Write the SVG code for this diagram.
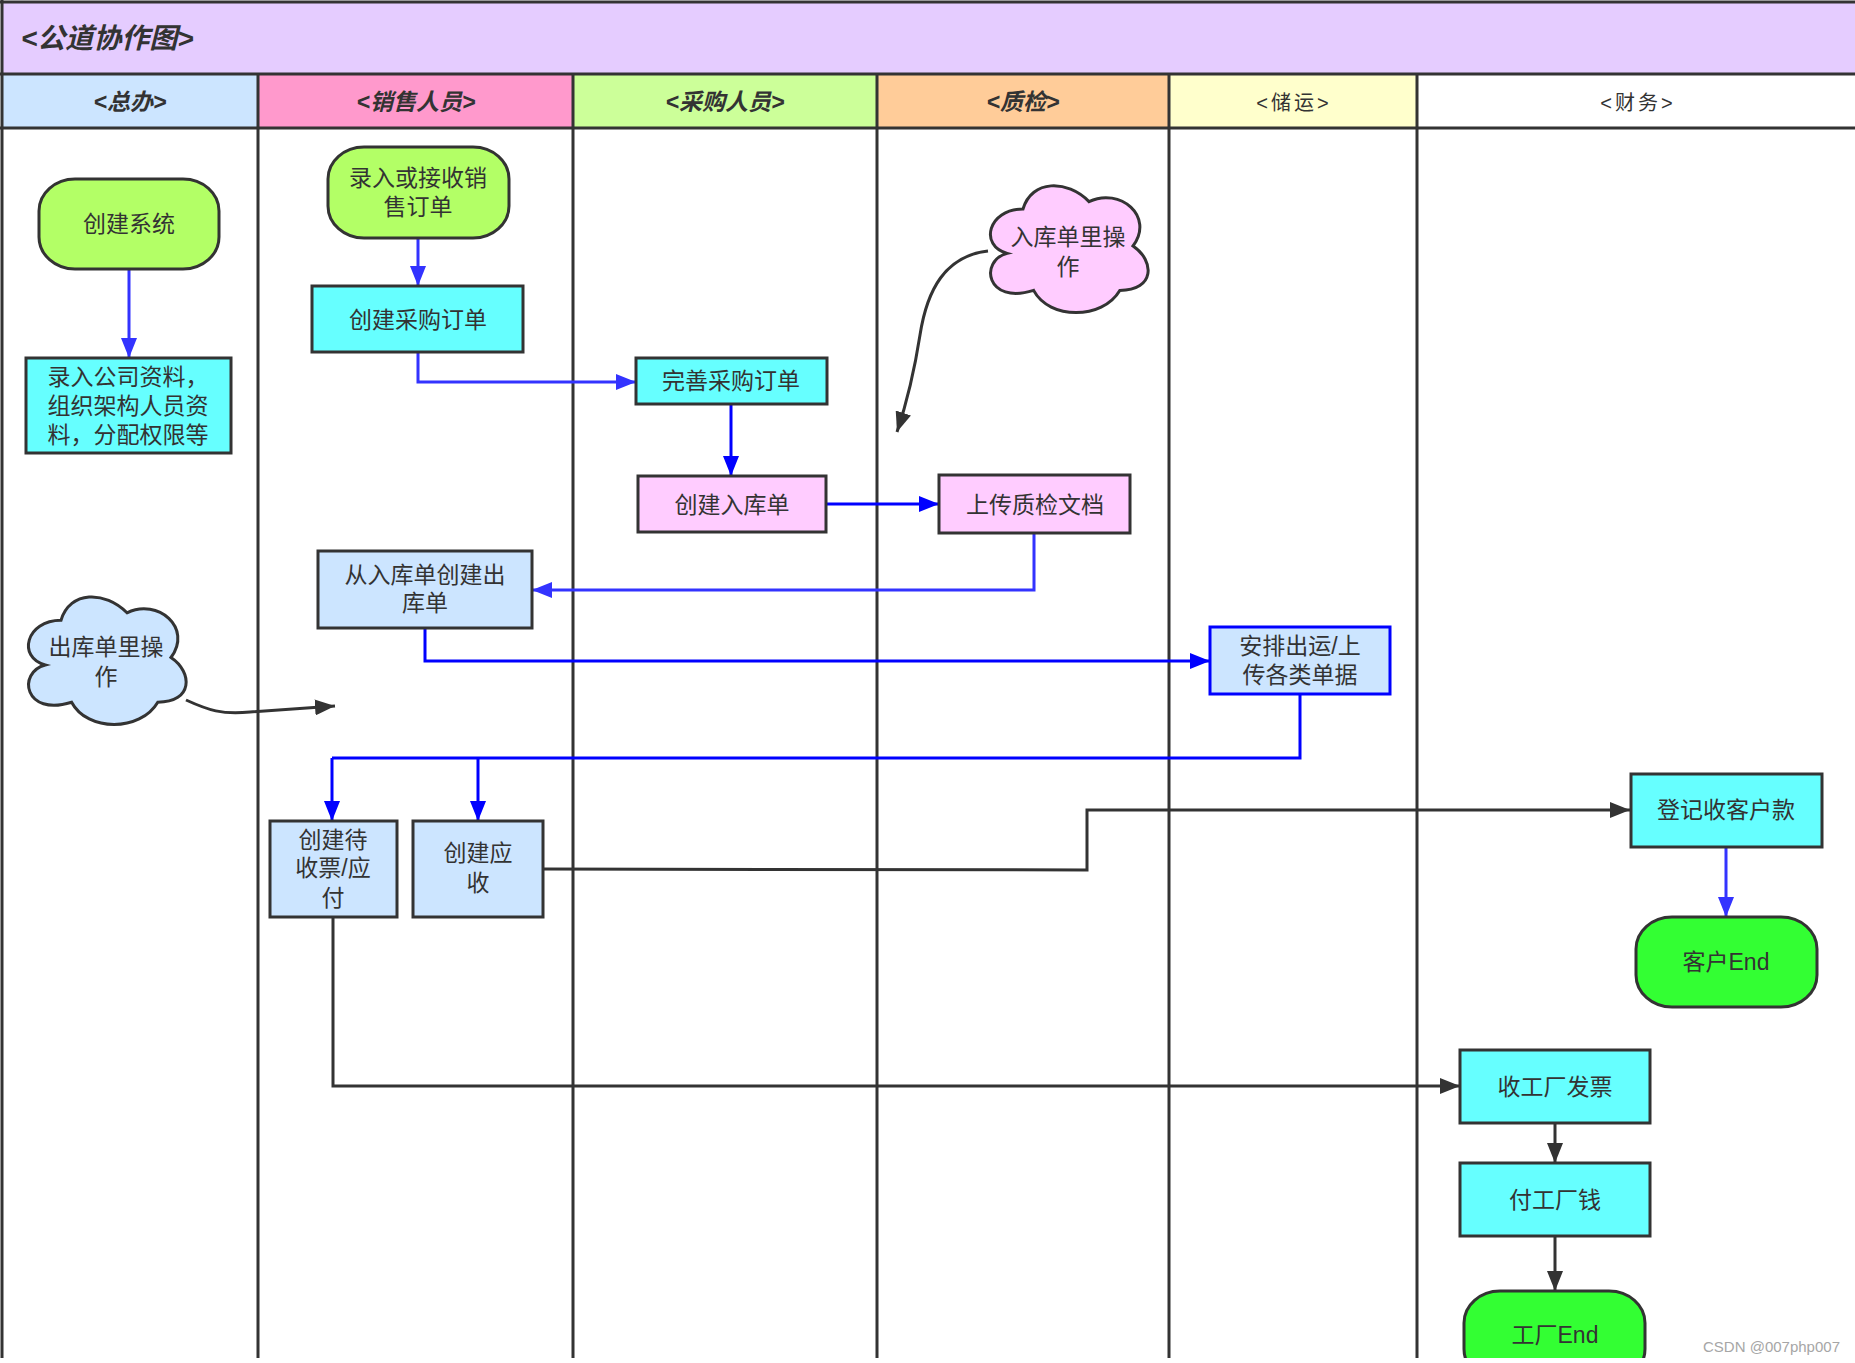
<svg xmlns="http://www.w3.org/2000/svg" width="1855" height="1363" viewBox="0 0 1855 1363">
<defs>
<style>
text{font-family:"Liberation Sans","Noto Sans CJK SC",sans-serif;fill:#333333;}
.t{font-size:23px;text-anchor:middle;dominant-baseline:central;}
.hb{font-size:23px;font-weight:bold;font-style:italic;text-anchor:middle;dominant-baseline:central;}
.hn{font-size:20px;text-anchor:middle;dominant-baseline:central;letter-spacing:3px;}
.box{stroke:#333333;stroke-width:3;}
.lane{stroke:#333333;stroke-width:3;fill:none;}
.cb{stroke:#3333ff;stroke-width:3;fill:none;marker-end:url(#ab);}
.cd{stroke:#0000ff;stroke-width:3;fill:none;marker-end:url(#ad);}
.ck{stroke:#333333;stroke-width:3;fill:none;marker-end:url(#ak);}
.cdn{stroke:#0000ff;stroke-width:3;fill:none;}
.lime{fill:#b3ff66;}
.cyan{fill:#66ffff;}
.pink{fill:#ffccff;}
.lblue{fill:#cce5ff;}
.green{fill:#33ff33;}
</style>
<marker id="ab" markerUnits="userSpaceOnUse" markerWidth="22" markerHeight="16" refX="20" refY="8" orient="auto"><path d="M0,0 L20,8 L0,16 z" fill="#3333ff"/></marker>
<marker id="ad" markerUnits="userSpaceOnUse" markerWidth="22" markerHeight="16" refX="20" refY="8" orient="auto"><path d="M0,0 L20,8 L0,16 z" fill="#0000ff"/></marker>
<marker id="ak" markerUnits="userSpaceOnUse" markerWidth="22" markerHeight="16" refX="20" refY="8" orient="auto"><path d="M0,0 L20,8 L0,16 z" fill="#333333"/></marker>
<clipPath id="clip"><rect x="0" y="0" width="1855" height="1358"/></clipPath>
</defs>
<rect x="0" y="0" width="1855" height="1363" fill="#ffffff"/>
<g clip-path="url(#clip)">
<g id="pool">
<rect x="2" y="2" width="1860" height="72" fill="#e5ccff"/>
<rect x="2" y="74" width="256" height="54" fill="#cce5ff"/>
<rect x="258" y="74" width="315" height="54" fill="#ff99cc"/>
<rect x="573" y="74" width="304" height="54" fill="#ccff99"/>
<rect x="877" y="74" width="292" height="54" fill="#ffcc99"/>
<rect x="1169" y="74" width="248" height="54" fill="#ffffcc"/>
<rect x="1417" y="74" width="440" height="54" fill="#ffffff"/>
<line class="lane" x1="0" y1="2" x2="1855" y2="2"/>
<line class="lane" x1="0" y1="74" x2="1855" y2="74"/>
<line class="lane" x1="0" y1="128" x2="1855" y2="128"/>
<line class="lane" x1="2" y1="0" x2="2" y2="1360"/>
<line class="lane" x1="258" y1="74" x2="258" y2="1360"/>
<line class="lane" x1="573" y1="74" x2="573" y2="1360"/>
<line class="lane" x1="877" y1="74" x2="877" y2="1360"/>
<line class="lane" x1="1169" y1="74" x2="1169" y2="1360"/>
<line class="lane" x1="1417" y1="74" x2="1417" y2="1360"/>
<text x="21" y="38" style="font-size:28px;font-weight:bold;font-style:italic;dominant-baseline:central;">&lt;公道协作图&gt;</text>
<text class="hb" x="130" y="102">&lt;总办&gt;</text>
<text class="hb" x="416" y="102">&lt;销售人员&gt;</text>
<text class="hb" x="725" y="102">&lt;采购人员&gt;</text>
<text class="hb" x="1023" y="102">&lt;质检&gt;</text>
<text class="hn" x="1294" y="103">&lt;储运&gt;</text>
<text class="hn" x="1638" y="103">&lt;财务&gt;</text>
</g>
<g id="connectors">
<path class="cb" d="M129,269 L129,358"/>
<path class="cb" d="M418,238 L418,286"/>
<path class="cb" d="M418,352 L418,382 L636,382"/>
<path class="cd" d="M731,404 L731,476"/>
<path class="cd" d="M826,504 L939,504"/>
<path class="cb" d="M1034,533 L1034,590 L532,590"/>
<path class="cd" d="M425,628 L425,661 L1210,661"/>
<path class="cdn" d="M1300,694 L1300,758 L332,758"/>
<path class="cd" d="M332,758 L332,821"/>
<path class="cd" d="M478,758 L478,821"/>
<path class="ck" d="M543,869 L1087,870 L1087,810 L1630,810"/>
<path class="cb" d="M1726,847 L1726,917"/>
<path class="ck" d="M333,917 L333,1086 L1460,1086"/>
<path class="ck" d="M1555,1123 L1555,1163"/>
<path class="ck" d="M1555,1236 L1555,1291"/>
<path class="ck" d="M988,251 C945,256 927,290 920,335 C913,380 906,405 897,432"/>
<path class="ck" d="M186,700 C208,710 222,715 250,712 L335,706"/>
</g>
<g id="n1"><rect class="box lime" x="39" y="179" width="180" height="90" rx="36" ry="32"/><text class="t" x="129" y="224">创建系统</text></g>
<g id="n2"><rect class="box cyan" x="26" y="358" width="205" height="95"/><text class="t" x="128" y="377">录入公司资料，</text><text class="t" x="128" y="406">组织架构人员资</text><text class="t" x="128" y="435">料，分配权限等</text></g>
<g id="n3"><rect class="box lime" x="328" y="147" width="181" height="91" rx="36" ry="32"/><text class="t" x="418" y="178">录入或接收销</text><text class="t" x="418" y="207">售订单</text></g>
<g id="n4"><rect class="box cyan" x="312" y="286" width="211" height="66"/><text class="t" x="418" y="320">创建采购订单</text></g>
<g id="n5"><rect class="box cyan" x="636" y="358" width="191" height="46"/><text class="t" x="731" y="381">完善采购订单</text></g>
<g id="n6"><rect class="box pink" x="638" y="476" width="188" height="56"/><text class="t" x="732" y="505">创建入库单</text></g>
<g id="n7"><rect class="box pink" x="939" y="475" width="191" height="58"/><text class="t" x="1035" y="505">上传质检文档</text></g>
<g id="n8"><path class="box pink" d="M1023,209 C987.8,209 979,246 1007.2,253.4 C979,260.8 986,305.2 1033.6,290.4 C1049.4,320 1102.2,320 1119.8,290.4 C1155,290.4 1155,260.8 1133,246 C1155,216.4 1119.8,186.8 1089,201.6 C1067,179.4 1031.8,179.4 1023,209 Z"/><text class="t" x="1068" y="237">入库单里操</text><text class="t" x="1068" y="267">作</text></g>
<g id="n9"><rect class="box lblue" x="318" y="551" width="214" height="77"/><text class="t" x="425" y="575">从入库单创建出</text><text class="t" x="425" y="603">库单</text></g>
<g id="n10"><path class="box lblue" d="M61,620.3 C25.8,620.3 17,657.5 45.2,665 C17,672.4 24,717.1 71.6,702.2 C87.4,732 140.2,732 157.8,702.2 C193,702.2 193,672.4 171,657.5 C193,627.7 157.8,597.9 127,612.8 C105,590.5 69.8,590.5 61,620.3 Z"/><text class="t" x="106" y="647">出库单里操</text><text class="t" x="106" y="677">作</text></g>
<g id="n11"><rect class="lblue" x="1210" y="627" width="180" height="67" stroke="#0000ff" stroke-width="3"/><text class="t" x="1300" y="646">安排出运/上</text><text class="t" x="1300" y="675">传各类单据</text></g>
<g id="n12"><rect class="box lblue" x="270" y="821" width="127" height="96"/><text class="t" x="333" y="840">创建待</text><text class="t" x="333" y="868">收票/应</text><text class="t" x="333" y="898">付</text></g>
<g id="n13"><rect class="box lblue" x="413" y="821" width="130" height="96"/><text class="t" x="478" y="853">创建应</text><text class="t" x="478" y="883">收</text></g>
<g id="n14"><rect class="box cyan" x="1631" y="774" width="191" height="73"/><text class="t" x="1726" y="810">登记收客户款</text></g>
<g id="n15"><rect class="box green" x="1636" y="917" width="181" height="90" rx="36" ry="32"/><text class="t" x="1726" y="962">客户End</text></g>
<g id="n16"><rect class="box cyan" x="1460" y="1050" width="190" height="73"/><text class="t" x="1555" y="1087">收工厂发票</text></g>
<g id="n17"><rect class="box cyan" x="1460" y="1163" width="190" height="73"/><text class="t" x="1555" y="1200">付工厂钱</text></g>
<g id="n18"><rect class="box green" x="1464" y="1291" width="181" height="90" rx="36" ry="32"/><text class="t" x="1555" y="1335">工厂End</text></g>
</g>
<text x="1840" y="1346" style="font-size:15px;fill:#a6a6a6;text-anchor:end;dominant-baseline:central;">CSDN @007php007</text>
</svg>
